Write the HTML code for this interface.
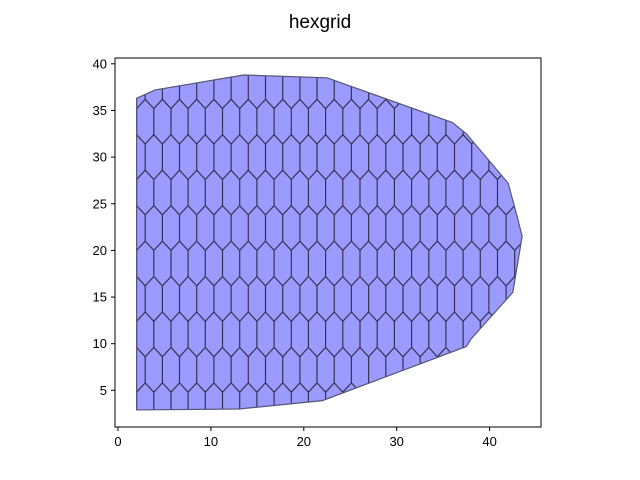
<!DOCTYPE html>
<html><head><meta charset="utf-8"><style>
html,body{margin:0;padding:0;background:#fff;font-family:"Liberation Sans",sans-serif;overflow:hidden;width:640px;height:480px;}
svg{display:block;}
svg text{font-family:"Liberation Sans",sans-serif;fill:#000;}
</style></head><body>
<svg width="640" height="480" viewBox="0 0 640 480">
<rect width="640" height="480" fill="#fff"/>
<text x="320" y="28" font-size="19" text-anchor="middle">hexgrid</text>
<defs><clipPath id="clip"><polygon id="clipPoly"/></clipPath></defs>
<g id="mesh" clip-path="url(#clip)"></g>
<polygon id="outline" fill="none" stroke="#555577" stroke-width="1.2"/>
<rect x="115" y="58" width="426" height="369" fill="none" stroke="#000" stroke-width="1"/>
<g id="xticks"></g>
<g id="yticks"></g>
</svg>
<script>
const outlineX=[2,2,4,13.5,22.5,36,37.5,42,43,43.5,42.5,38,37.5,22,13,2];
const outlineY=[2.9,36.3,37.2,38.8,38.5,33.7,32.5,27.2,23.5,21.5,15.5,10.5,9.7,3.9,3,2.9];
const xTicks=[0,10,20,30,40];
const yTicks=[5,10,15,20,25,30,35,40];
const sx=v=>118+v*9.29;
const sy=v=>437-v*9.33;
const NS="http://www.w3.org/2000/svg";
const pts=outlineX.map((x,i)=>sx(x)+","+sy(outlineY[i])).join(" ");
document.getElementById('clipPoly').setAttribute('points',pts);
const fillPoly=document.createElementNS(NS,'polygon');
fillPoly.setAttribute('points',pts);
fillPoly.setAttribute('fill','#9b9bff');


const mesh=document.getElementById('mesh');
mesh.appendChild(fillPoly);
document.getElementById('outline').setAttribute('points',pts);
const dx=1.85,a=2.8,b=1.0;
let d="";
for(let i=0;i<=50;i++){
  const cx=2+i*dx/2;
  const off=(i%2)*(a+b);
  for(let cy=off-8;cy<48;cy+=2*(a+b)){
    const v=[[cx-dx/2,cy-a/2],[cx,cy-a/2-b],[cx+dx/2,cy-a/2],[cx+dx/2,cy+a/2],[cx,cy+a/2+b],[cx-dx/2,cy+a/2]];
    d+="M"+v.map(p=>sx(p[0]).toFixed(1)+","+sy(p[1]).toFixed(1)).join("L")+"Z";
  }
}
const path=document.createElementNS(NS,'path');
path.setAttribute('d',d);
path.setAttribute('fill','none');
path.setAttribute('stroke','#333355');
path.setAttribute('stroke-width','1.2');


mesh.appendChild(path);
const xg=document.getElementById('xticks');
xTicks.forEach(t=>{
  const l=document.createElementNS(NS,'line');
  l.setAttribute('x1',sx(t));l.setAttribute('x2',sx(t));l.setAttribute('y1',427);l.setAttribute('y2',431);l.setAttribute('stroke','#000');
  
  
  xg.appendChild(l);
  const tx=document.createElementNS(NS,'text');
  tx.setAttribute('x',sx(t));tx.setAttribute('y',446);tx.setAttribute('font-size','13');tx.setAttribute('text-anchor','middle');
  tx.textContent=t;
  
  
  xg.appendChild(tx);
});
const yg=document.getElementById('yticks');
yTicks.forEach(t=>{
  const l=document.createElementNS(NS,'line');
  l.setAttribute('x1',111);l.setAttribute('x2',115);l.setAttribute('y1',sy(t));l.setAttribute('y2',sy(t));l.setAttribute('stroke','#000');
  
  
  yg.appendChild(l);
  const tx=document.createElementNS(NS,'text');
  tx.setAttribute('x',107);tx.setAttribute('y',sy(t)+4.5);tx.setAttribute('font-size','13');tx.setAttribute('text-anchor','end');
  tx.textContent=t;
  
  
  yg.appendChild(tx);
});
</script>
</body></html>
